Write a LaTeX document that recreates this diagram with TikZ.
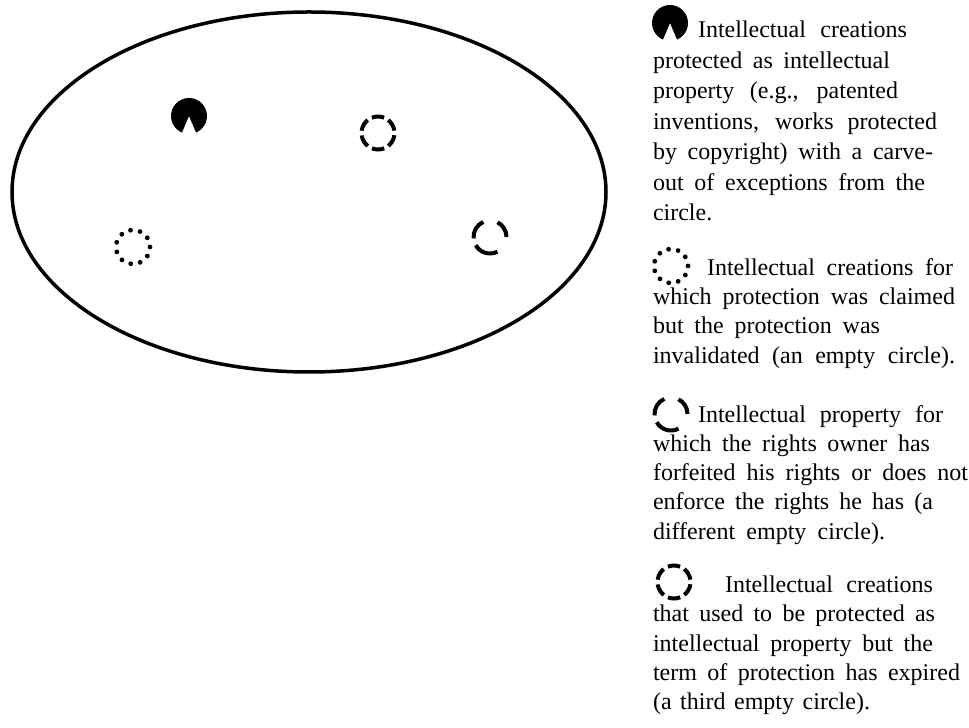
\documentclass[tikz,border=0pt]{standalone}
\usepackage{fontspec}
\setmainfont{Liberation Serif}
\begin{document}
\begin{tikzpicture}[x=1pt,y=1pt,
  symline/.style={line width=4pt},
  txt/.style={anchor=base west, inner sep=0pt, outer sep=0pt, font=\fontsize{24}{29.5}\selectfont},
  pics/pacman/.style={code={\fill (293:18) arc[start angle=293,end angle=607,radius=18] -- (0,0) -- cycle;}},
  pics/dashcirc/.style={code={\draw[symline, dash pattern=on 12.5pt off 4.78pt, dash phase=14.9pt] (0,0) circle[radius=16.5];}},
  pics/dotcirc/.style={code={\draw[line width=4.8pt, line cap=round, dash pattern=on 0.01pt off 9.7pt] (0,0) circle[radius=17];}},
  pics/arccirc/.style={code={
    \draw[symline] (114:16.5) arc[start angle=114,end angle=185,radius=16.5];
    \draw[symline] (0:16.5) arc[start angle=0,end angle=63,radius=16.5];
    \draw[symline] (210:16.5) arc[start angle=210,end angle=297,radius=16.5];}}
]
\useasboundingbox (0,0) rectangle (969,728);
\fill[white] (0,0) rectangle (969,728);

% universe ellipse
\draw[line width=3.5pt] (309,536) ellipse[x radius=297, y radius=180];

% symbols inside the ellipse
\pic (s1) at (189,612) {pacman};
\pic (s2) at (378,595) {dashcirc};
\pic (s3) at (133,481) {dotcirc};
\pic (s4) at (490,491) {arccirc};

% legend symbols
\pic (l1) at (670,705) {pacman};
\pic (l2) at (671,462) {dotcirc};
\pic (l3) at (671,314) {arccirc};
\pic (l4) at (674,146) {dashcirc};

% paragraph 1
\node[txt] (a1) at (698,690) {\makebox[209pt][s]{Intellectual creations}};
\node[txt] (a2) at (653,659.5) {\makebox[237pt][s]{protected as intellectual}};
\node[txt] (a3) at (653,629) {\makebox[245pt][s]{property (e.g., patented}};
\node[txt] (a4) at (653,598.5) {\makebox[284pt][s]{inventions, works protected}};
\node[txt] (a5) at (653,568) {\makebox[280pt][s]{by copyright) with a carve-}};
\node[txt] (a6) at (653,537.5) {\makebox[272pt][s]{out of exceptions from the}};
\node[txt] (a7) at (653,507) {circle.};

% paragraph 2
\node[txt] (b1) at (707,452) {\makebox[246pt][s]{Intellectual creations for}};
\node[txt] (b2) at (653,423) {\makebox[302pt][s]{which protection was claimed}};
\node[txt] (b3) at (653,394) {\makebox[227pt][s]{but the protection was}};
\node[txt] (b4) at (653,364) {\makebox[302pt][s]{invalidated (an empty circle).}};

% paragraph 3
\node[txt] (c1) at (698,305) {\makebox[245pt][s]{Intellectual property for}};
\node[txt] (c2) at (653,276) {\makebox[277pt][s]{which the rights owner has}};
\node[txt] (c3) at (653,247) {\makebox[315pt][s]{forfeited his rights or does not}};
\node[txt] (c4) at (653,218) {\makebox[280pt][s]{enforce the rights he has (a}};
\node[txt] (c5) at (653,188) {\makebox[232pt][s]{different empty circle).}};

% paragraph 4
\node[txt] (d1) at (725,135) {\makebox[208pt][s]{Intellectual creations}};
\node[txt] (d2) at (653,106) {\makebox[282pt][s]{that used to be protected as}};
\node[txt] (d3) at (653,76) {\makebox[280pt][s]{intellectual property but the}};
\node[txt] (d4) at (653,47) {\makebox[307pt][s]{term of protection has expired}};
\node[txt] (d5) at (653,18) {\makebox[217pt][s]{(a third empty circle).}};
\end{tikzpicture}
\end{document}
